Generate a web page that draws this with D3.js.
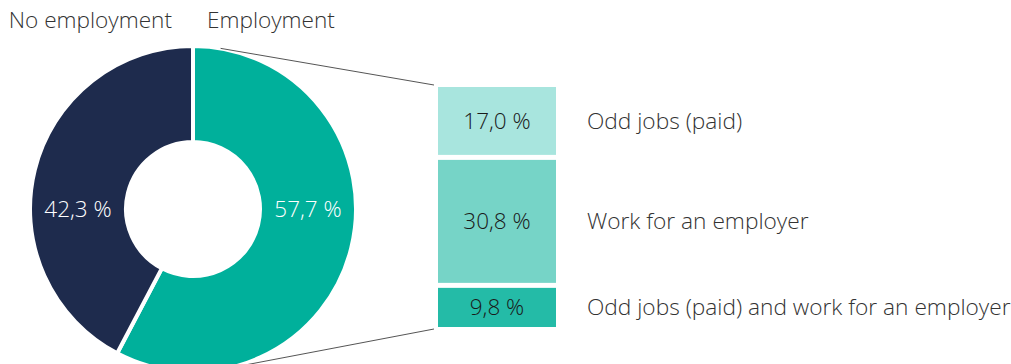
<!DOCTYPE html>
<html>
<head>
<meta charset="utf-8">
<script src="https://cdn.jsdelivr.net/npm/d3@7"></script>
<style>
  html, body { margin: 0; padding: 0; background: #fff; }
  svg { display: block; font-family: "Open Sans", sans-serif; }
</style>
</head>
<body>
<svg id="chart" width="1011" height="364"></svg>
<script>
// Share of respondents with / without employment
const donutLabels = ["Employment", "No employment"];
const donutValues = [57.7, 42.3];
const donutColors = ["#00b09b", "#1e2b4d"];

// Breakdown of the employment share
const breakdownLabels = ["Odd jobs (paid)", "Work for an employer", "Odd jobs (paid) and work for an employer"];
const breakdownValues = [17.0, 30.8, 9.8];
const breakdownColors = ["#a8e5de", "#76d4c7", "#24bba7"];

const fmt = v => d3.format(".1f")(v).replace(".", ",") + " %";

const svg = d3.select("#chart");

// Donut geometry
const cx = 193, cy = 209, rOuter = 163, rInner = 67;

const pie = d3.pie().sort(null).value(d => d)
  .startAngle(0).endAngle(2 * Math.PI);
const arc = d3.arc().innerRadius(rInner).outerRadius(rOuter);

const g = svg.append("g").attr("transform", `translate(${cx},${cy})`);
g.selectAll("path")
  .data(pie(donutValues))
  .join("path")
  .attr("d", arc)
  .attr("fill", (d, i) => donutColors[i])
  .attr("stroke", "#fff")
  .attr("stroke-width", 4)
  .attr("stroke-linejoin", "miter");

// Value labels inside the ring, right for employment, left for no employment
const rMid = (rInner + rOuter) / 2;
g.append("text")
  .attr("x", rMid).attr("y", 0).attr("dy", "0.35em")
  .attr("text-anchor", "middle")
  .attr("fill", "#fff").attr("font-size", 22.5).attr("font-weight", 300)
  .text(fmt(donutValues[0]));
g.append("text")
  .attr("x", -rMid).attr("y", 0).attr("dy", "0.35em")
  .attr("text-anchor", "middle")
  .attr("fill", "#fff").attr("font-size", 22.5).attr("font-weight", 300)
  .text(fmt(donutValues[1]));

// Headings above the donut
svg.append("text")
  .attr("x", cx - 21).attr("y", 28)
  .attr("text-anchor", "end")
  .attr("fill", "#333").attr("font-size", 22.6).attr("font-weight", 300)
  .text(donutLabels[1]);
svg.append("text")
  .attr("x", cx + 14).attr("y", 28)
  .attr("text-anchor", "start")
  .attr("fill", "#333").attr("font-size", 22.6).attr("font-weight", 300)
  .text(donutLabels[0]);

// Stacked breakdown bar
const barX = 438, barW = 118, barTop = 87, barBottom = 327, gap = 5;
const total = d3.sum(breakdownValues);
const y = d3.scaleLinear()
  .domain([0, total])
  .range([0, barBottom - barTop - gap * (breakdownValues.length - 1)]);

let acc = 0;
const segs = breakdownValues.map((v, i) => {
  const s = { v, i, y0: barTop + y(acc) + gap * i };
  s.y1 = s.y0 + y(v);
  acc += v;
  return s;
});

svg.selectAll("rect.seg")
  .data(segs)
  .join("rect")
  .attr("class", "seg")
  .attr("x", barX).attr("width", barW)
  .attr("y", d => d.y0).attr("height", d => d.y1 - d.y0)
  .attr("fill", d => breakdownColors[d.i]);

svg.selectAll("text.segval")
  .data(segs)
  .join("text")
  .attr("class", "segval")
  .attr("x", barX + barW / 2)
  .attr("y", d => (d.y0 + d.y1) / 2)
  .attr("dy", "0.35em")
  .attr("text-anchor", "middle")
  .attr("fill", "#1a1a1a").attr("font-size", 22.5).attr("font-weight", 300)
  .text(d => fmt(d.v));

svg.selectAll("text.seglab")
  .data(segs)
  .join("text")
  .attr("class", "seglab")
  .attr("x", 587)
  .attr("y", d => (d.y0 + d.y1) / 2)
  .attr("dy", "0.35em")
  .attr("fill", "#333").attr("font-size", 22.7).attr("font-weight", 300)
  .text(d => breakdownLabels[d.i]);

// Tangent connector lines from the bar corners to the donut's outer edge
function tangentPoint(px, py, side) {
  const dx = px - cx, dy = py - cy;
  const d = Math.hypot(dx, dy);
  const a = Math.atan2(dy, dx) + side * Math.acos(rOuter / d);
  return [cx + rOuter * Math.cos(a), cy + rOuter * Math.sin(a)];
}
const topCorner = [barX - 4, barTop - 2];
const botCorner = [barX - 4, barBottom + 2];
const tTop = tangentPoint(topCorner[0], topCorner[1], -1);
const tBot = tangentPoint(botCorner[0], botCorner[1], 1);
const line = d3.line();
svg.append("path")
  .attr("d", line([tTop, topCorner]))
  .attr("stroke", "#555").attr("stroke-width", 1).attr("fill", "none");
svg.append("path")
  .attr("d", line([tBot, botCorner]))
  .attr("stroke", "#555").attr("stroke-width", 1).attr("fill", "none");
</script>
</body>
</html>
